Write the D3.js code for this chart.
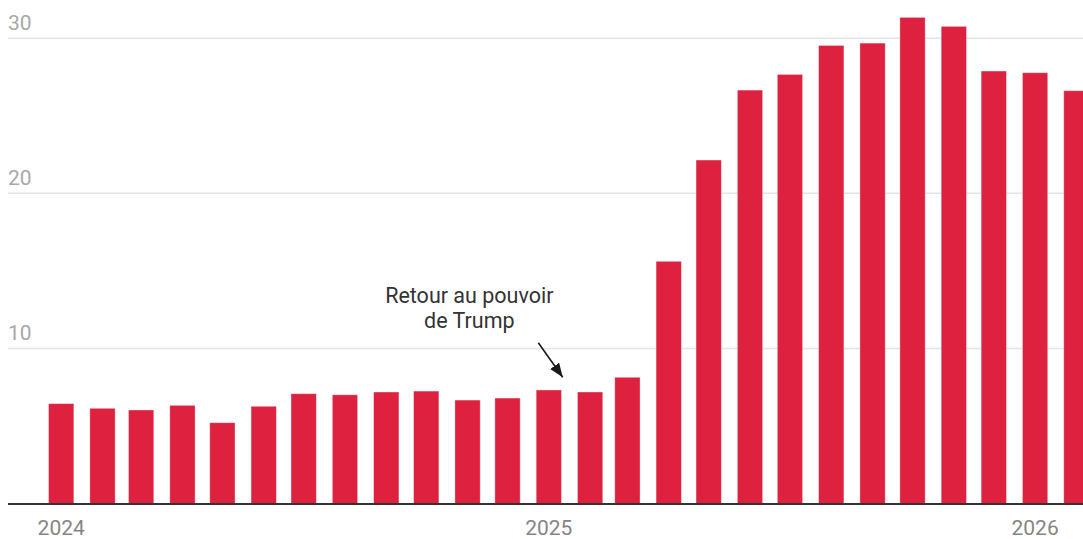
<!DOCTYPE html>
<html>
<head>
<meta charset="utf-8">
<script src="https://cdn.jsdelivr.net/npm/d3@7"></script>
<style>
  html, body { margin: 0; padding: 0; background: #fff; }
  svg { display: block; font-family: Roboto, "Noto Sans", sans-serif; }
</style>
</head>
<body>
<svg id="chart" width="1083" height="539"></svg>
<script>
// Data: monthly values, January 2024 to February 2026
const months = [
  "2024-01","2024-02","2024-03","2024-04","2024-05","2024-06",
  "2024-07","2024-08","2024-09","2024-10","2024-11","2024-12",
  "2025-01","2025-02","2025-03","2025-04","2025-05","2025-06",
  "2025-07","2025-08","2025-09","2025-10","2025-11","2025-12",
  "2026-01","2026-02"
];
const values = [
  6.44, 6.14, 6.03, 6.33, 5.21, 6.27,
  7.08, 7.01, 7.19, 7.25, 6.67, 6.80,
  7.32, 7.19, 8.14, 15.62, 22.15, 26.66,
  27.67, 29.54, 29.69, 31.35, 30.77, 27.89,
  27.78, 26.62
];
const yTicks = [10, 20, 30];
const xTickLabels = ["2024", "2025", "2026"];
const annotationLines = ["Retour au pouvoir", "de Trump"];
const annotationMonth = "2025-01";

const parse = d3.utcParse("%Y-%m");
const data = months.map((m, i) => ({ date: parse(m), value: values[i] }));

const svg = d3.select("#chart");
const W = 1083;

const x = d3.scaleUtc()
  .domain([parse("2024-01"), parse("2026-01")])
  .range([61.2, 1035.1]);
const y = d3.scaleLinear().domain([0, 30]).range([503.5, 38.3]);

const barW = 25.3;
const gridLeft = 8;

// gridlines
svg.append("g").selectAll("line").data(yTicks).join("line")
  .attr("x1", gridLeft).attr("x2", W)
  .attr("y1", d => y(d)).attr("y2", d => y(d))
  .attr("stroke", "#e4e4e4").attr("stroke-width", 1.5);

// y labels
svg.append("g").selectAll("text").data(yTicks).join("text")
  .attr("x", gridLeft).attr("y", d => y(d) - 8.5)
  .attr("fill", "#a8a8a8").attr("font-size", 21)
  .text(d => d);

// bars
svg.append("g").selectAll("rect").data(data).join("rect")
  .attr("x", d => x(d.date) - barW / 2)
  .attr("width", barW)
  .attr("y", d => y(d.value))
  .attr("height", d => y(0) - y(d.value))
  .attr("fill", "#de213f")
  .attr("stroke", "rgba(255,255,255,0.45)")
  .attr("stroke-width", 0.8);

// baseline
svg.append("line")
  .attr("x1", gridLeft).attr("x2", W)
  .attr("y1", y(0) + 0.5).attr("y2", y(0) + 0.5)
  .attr("stroke", "#333").attr("stroke-width", 2);

// x labels
svg.append("g").selectAll("text").data(xTickLabels).join("text")
  .attr("x", d => x(d3.utcParse("%Y")(d)))
  .attr("y", 535)
  .attr("text-anchor", "middle")
  .attr("fill", "#858585").attr("font-size", 21)
  .text(d => d);

// annotation
const ann = svg.append("g");
ann.selectAll("text").data(annotationLines).join("text")
  .attr("x", 469.3).attr("y", (d, i) => 303.3 + i * 25)
  .attr("text-anchor", "middle")
  .attr("fill", "#333").attr("font-size", 21.5)
  .text(d => d);

svg.append("defs").append("marker")
  .attr("id", "arrowhead")
  .attr("viewBox", "0 0 10 10")
  .attr("refX", 10).attr("refY", 5)
  .attr("markerWidth", 14).attr("markerHeight", 11)
  .attr("markerUnits", "userSpaceOnUse")
  .attr("orient", "auto")
  .attr("preserveAspectRatio", "none")
  .append("path").attr("d", "M0,0 L10,5 L0,10 z").attr("fill", "#1a1a1a");

const annX = x(parse(annotationMonth));
ann.append("line")
  .attr("x1", annX - 10.5).attr("y1", 342.7)
  .attr("x2", annX + 13.9).attr("y2", 377.3)
  .attr("stroke", "#1a1a1a").attr("stroke-width", 1.6)
  .attr("marker-end", "url(#arrowhead)");
</script>
</body>
</html>
